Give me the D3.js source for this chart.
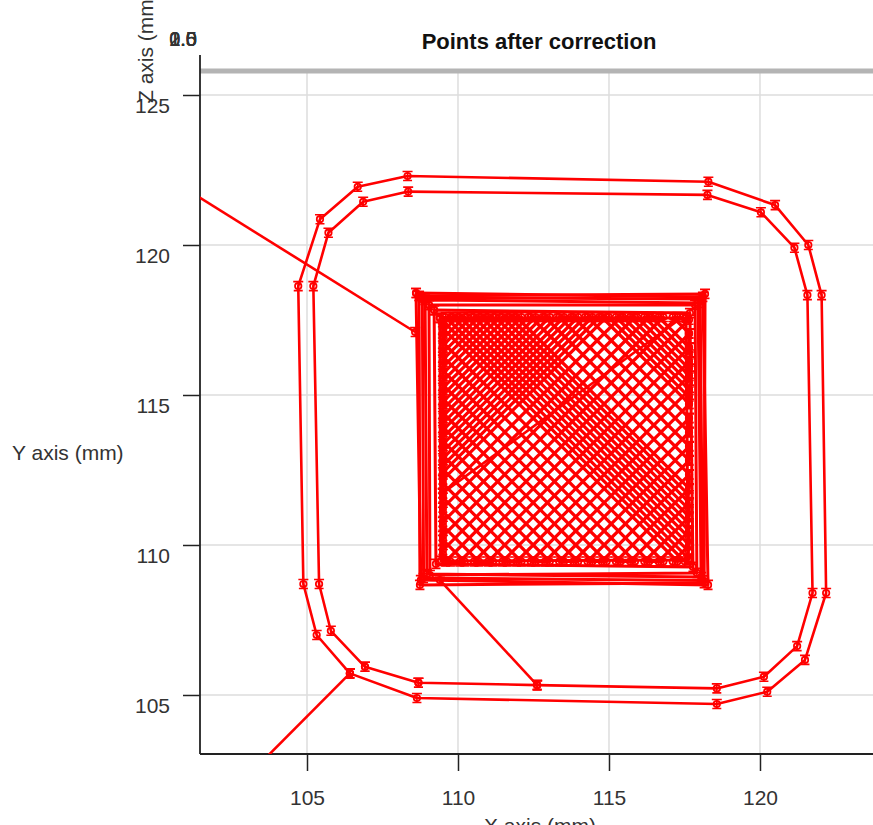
<!DOCTYPE html>
<html>
<head>
<meta charset="utf-8">
<script src="https://cdn.jsdelivr.net/npm/d3@7"></script>
<style>
  html, body { margin: 0; padding: 0; background: #fff; }
  svg { display: block; }
  text { font-family: "Liberation Sans", Arial, sans-serif; }
</style>
</head>
<body>
<svg id="chart" width="873" height="825"></svg>
<script>
// ---------- data (mm) ----------
const xTicks = [105, 110, 115, 120];
const yTicks = [105, 110, 115, 120, 125];
const zTickLabels = ["0.0", "0.5", "1.0", "1.5", "2.0"];

// travel from outside into the skirt start
const travelInX = [102.0, 106.42];
const travelInY = [101.25, 105.72];

// outer skirt loop
const skirtOuterX = [106.42, 105.32, 104.88, 104.71, 105.43, 106.68, 108.33, 118.29, 120.50, 121.60, 122.04, 122.19, 121.49, 120.24, 118.57, 108.64, 106.42];
const skirtOuterY = [105.72, 107.00, 108.70, 118.63, 120.86, 121.94, 122.30, 122.11, 121.33, 120.00, 118.33, 108.40, 106.17, 105.11, 104.70, 104.90, 105.72];

// inner skirt loop (ends on the bottom edge, then travels into the part)
const skirtInnerX = [106.92, 108.69, 112.62, 118.57, 120.13, 121.23, 121.74, 121.57, 121.14, 120.03, 118.26, 108.35, 106.86, 105.71, 105.21, 105.40, 105.79, 106.92, 108.69, 112.62];
const skirtInnerY = [105.94, 105.41, 105.33, 105.22, 105.61, 106.63, 108.40, 118.33, 119.91, 121.09, 121.67, 121.78, 121.44, 120.41, 118.63, 108.70, 107.14, 105.94, 105.41, 105.33];

// travel from skirt into the square
const travelPartX = [112.62, 109.40];
const travelPartY = [105.33, 108.83];

// square perimeters, corners TL, TR, BR, BL
const perimX = [
  [108.61, 118.11, 118.28, 108.77],
  [108.91, 117.95, 118.05, 108.97],
  [109.21, 117.68, 117.78, 109.27],
  [108.71, 118.18, 118.15, 108.74],
  [109.04, 117.85, 117.91, 109.07],
  [109.40, 117.55, 117.62, 109.44],
  [108.82, 118.02, 118.10, 108.86]
];
const perimY = [
  [118.40, 118.27, 108.67, 108.83],
  [118.17, 118.07, 108.93, 109.03],
  [117.83, 117.73, 109.27, 109.37],
  [118.30, 118.37, 108.73, 108.67],
  [118.00, 118.00, 109.07, 109.00],
  [117.57, 117.57, 109.50, 109.47],
  [118.25, 118.20, 108.82, 108.90]
];

// infill area (x0, y0, x1, y1)
const infillBox = [109.50, 109.45, 117.65, 117.60];
// 45 deg infill lines: x - y = c
const infillA = [-7.85, -7.38, -6.91, -6.44, -5.97, -5.50, -5.03, -4.56, -4.09, -3.62, -3.15, -2.68, -2.21, -1.74, -1.27, -0.80, -0.33, 0.14, 0.61, 1.08, 1.55, 2.02, 2.49, 2.96, 3.43, 3.90, 4.37, 4.84, 5.31, 5.78, 6.25, 6.72, 7.19, 7.66];
// -45 deg infill lines: x + y = c
const infillB = [219.20, 219.67, 220.14, 220.61, 221.08, 221.55, 222.02, 222.49, 222.96, 223.43, 223.90, 224.37, 224.84, 225.31, 225.78, 226.25, 226.72, 227.19, 227.66, 228.13, 228.60, 229.07, 229.54, 230.01, 230.48, 230.95, 231.42, 231.89, 232.36, 232.83, 233.30, 233.77, 234.24, 234.71];
// extra infill from other layers (denser, finely hatched areas)
const infillA2 = [-7.62, -7.15, -6.68, -6.21, -5.74, -5.27, -4.80, -4.33, -3.86, -3.39, -2.92];
const infillB2 = [226.96, 227.43, 227.90, 228.37, 228.84, 229.31, 232.59, 233.06, 233.53, 234.00];

// diagonal travel inside the square
const travelDiagX = [109.49, 117.44];
const travelDiagY = [111.73, 117.60];

// final travel out of the part
const travelOutX = [108.58, 100.0];
const travelOutY = [117.10, 122.49];

// ---------- drawing ----------
const svg = d3.select("#chart");
const pLeft = 200, pRight = 873, pTop = 71, pBottom = 754;

const x = d3.scaleLinear().domain([101.457, 123.742]).range([pLeft, pRight]);
const y = d3.scaleLinear().domain([103.033, 125.8]).range([pBottom, pTop]);

const RED = "#ff0000";
const TXT = "#333333";
const FONT = "Liberation Sans, Arial, sans-serif";

// grid
const grid = svg.append("g");
grid.selectAll("line.vx").data(xTicks).join("line")
  .attr("x1", d => x(d)).attr("x2", d => x(d))
  .attr("y1", pTop).attr("y2", pBottom)
  .attr("stroke", "#dddddd").attr("stroke-width", 1.5);
grid.selectAll("line.hy").data(yTicks).join("line")
  .attr("x1", pLeft).attr("x2", pRight)
  .attr("y1", d => y(d)).attr("y2", d => y(d))
  .attr("stroke", "#dddddd").attr("stroke-width", 1.5);

// top pane edge
svg.append("line").attr("x1", pLeft).attr("x2", pRight).attr("y1", 71).attr("y2", 71)
  .attr("stroke", "#b4b4b4").attr("stroke-width", 5);

// axes
const yAxis = d3.axisLeft(y).tickValues(yTicks).tickSize(17).tickSizeOuter(0).tickPadding(13).tickFormat(d3.format("d"));
const gy = svg.append("g").attr("transform", `translate(${pLeft},0)`).call(yAxis);
gy.select(".domain").remove();
gy.selectAll(".tick line").attr("stroke", "#222").attr("stroke-width", 1.5);
gy.selectAll(".tick text").attr("font-size", 21).attr("fill", TXT).attr("dy", "0.82em")
  .attr("font-family", FONT);

const xAxis = d3.axisBottom(x).tickValues(xTicks).tickSize(17).tickSizeOuter(0).tickPadding(19).tickFormat(d3.format("d"));
const gx = svg.append("g").attr("transform", `translate(0,${pBottom})`).call(xAxis);
gx.select(".domain").remove();
gx.selectAll(".tick line").attr("stroke", "#222").attr("stroke-width", 1.5);
gx.selectAll(".tick text").attr("font-size", 21).attr("fill", TXT)
  .attr("font-family", FONT);

svg.append("line").attr("x1", pLeft).attr("x2", pLeft).attr("y1", 55).attr("y2", pBottom)
  .attr("stroke", "#222").attr("stroke-width", 1.8);
svg.append("line").attr("x1", pLeft).attr("x2", pRight).attr("y1", pBottom).attr("y2", pBottom)
  .attr("stroke", "#222").attr("stroke-width", 1.8);

// labels
svg.append("text").attr("x", 539).attr("y", 49).attr("text-anchor", "middle")
  .attr("font-size", 22).attr("font-weight", "bold").attr("fill", "#111")
  .text("Points after correction");
svg.append("text").attr("x", 12).attr("y", 460).attr("font-size", 21).attr("fill", TXT)
  .text("Y axis (mm)");
svg.append("text").attr("x", 540).attr("y", 833).attr("text-anchor", "middle")
  .attr("font-size", 21).attr("fill", TXT).text("X axis (mm)");
svg.append("text").attr("transform", "translate(153,103) rotate(-90)")
  .attr("font-size", 21).attr("fill", TXT).text("Z axis (mm)");
svg.selectAll("text.zt").data(zTickLabels).join("text")
  .attr("class", "zt").attr("x", 197).attr("y", 46).attr("text-anchor", "end")
  .attr("font-size", 20).attr("fill", TXT).text(d => d);

// ---------- toolpath ----------
svg.append("clipPath").attr("id", "plotclip").append("rect")
  .attr("x", pLeft).attr("y", 0).attr("width", pRight - pLeft).attr("height", pBottom);
const plot = svg.append("g").attr("clip-path", "url(#plotclip)");

const line = d3.line().x(d => x(d[0])).y(d => y(d[1]));
const zip = (xs, ys) => xs.map((v, i) => [v, ys[i]]);

function clipInfill(kind, c) {
  const [x0, y0, x1, y1] = infillBox;
  if (kind === "A") {
    const xa = Math.max(x0, y0 + c), xb = Math.min(x1, y1 + c);
    return [[xa, xa - c], [xb, xb - c]];
  } else {
    const xa = Math.max(x0, c - y1), xb = Math.min(x1, c - y0);
    return [[xa, c - xa], [xb, c - xb]];
  }
}
function zigzag(kind, cs) {
  const pts = [];
  cs.forEach((c, i) => {
    const seg = clipInfill(kind, c);
    if (i % 2 === 0) pts.push(seg[0], seg[1]); else pts.push(seg[1], seg[0]);
  });
  return pts;
}
function separate(kind, cs) {
  return cs.map(c => clipInfill(kind, c));
}

const outline = [
  zip(travelInX, travelInY),
  zip(skirtOuterX, skirtOuterY),
  zip(skirtInnerX, skirtInnerY),
  zip(travelPartX, travelPartY),
  zip(travelDiagX, travelDiagY),
  zip(travelOutX, travelOutY)
];
const squares = perimX.map((xs, i) => { const p = zip(xs, perimY[i]); return p.concat([p[0]]); });
const infill = [zigzag("A", infillA), zigzag("B", infillB)]
  .concat(separate("A", infillA2), separate("B", infillB2));

plot.selectAll("path.inf").data(infill).join("path")
  .attr("class", "inf").attr("d", line)
  .attr("fill", "none").attr("stroke", RED).attr("stroke-width", 3.2)
  .attr("stroke-linejoin", "round");
plot.selectAll("path.sq").data(squares).join("path")
  .attr("class", "sq").attr("d", line)
  .attr("fill", "none").attr("stroke", RED).attr("stroke-width", 3)
  .attr("stroke-linejoin", "round");
plot.selectAll("path.tp").data(outline).join("path")
  .attr("class", "tp").attr("d", line)
  .attr("fill", "none").attr("stroke", RED).attr("stroke-width", 2.6)
  .attr("stroke-linejoin", "round");

const markerPts = [];
[...outline, ...squares, ...infill].forEach(p => p.forEach(pt => markerPts.push(pt)));
const mk = plot.selectAll("g.mk").data(markerPts.filter(p => p[0] > 101.5 && p[1] > 103.1)).join("g")
  .attr("class", "mk").attr("transform", d => `translate(${x(d[0])},${y(d[1])})`);
mk.append("circle").attr("r", 3.2).attr("fill", "none").attr("stroke", RED).attr("stroke-width", 1.8);
mk.append("path").attr("d", "M-5,-4.5H5M0,-5V5M-4.5,4.5H4.5").attr("stroke", RED).attr("stroke-width", 1.6);
</script>
</body>
</html>
